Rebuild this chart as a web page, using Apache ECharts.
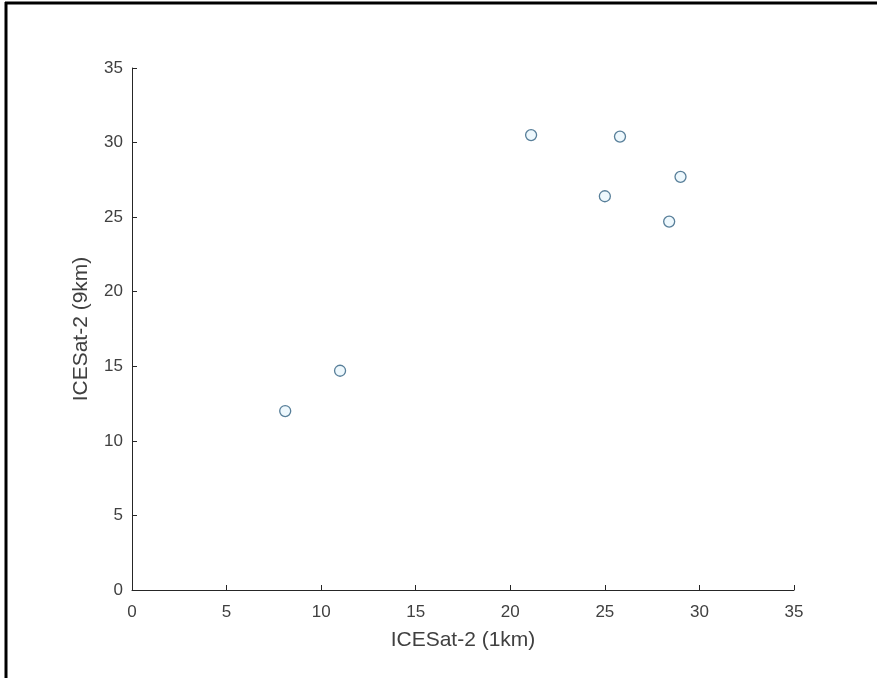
<!DOCTYPE html>
<html>
<head>
<meta charset="UTF-8" />
<title>ICESat-2 scatter</title>
<script src="https://cdn.jsdelivr.net/npm/echarts@6/dist/echarts.min.js"></script>
<style>
  html, body { margin: 0; padding: 0; background: #fff; }
  #container { width: 877px; height: 678px; }
</style>
</head>
<body>
<div id="container"></div>
<script type="text/javascript">
    // 1km vs 9km values
    var xVals = [8.1, 11.0, 21.1, 25.8, 25.0, 29.0, 28.4];
    var yVals = [12.0, 14.7, 30.5, 30.4, 26.4, 27.7, 24.7];
    var xName = 'ICESat-2 (1km)';
    var yName = 'ICESat-2 (9km)';

    var points = [];
    for (var i = 0; i < xVals.length; i++) {
        points.push([xVals[i], yVals[i]]);
    }

    var myChart = echarts.init(document.getElementById('container'));
    var axisColor = '#262626';
    var textColor = '#404040';

    var option = {
        backgroundColor: '#fff',
        animation: false,
        grid: { left: 132, right: 83, top: 68, bottom: 88 },
        graphic: [
            { type: 'line', shape: { x1: 5, y1: 3, x2: 877, y2: 3 }, style: { stroke: '#000', lineWidth: 3 } },
            { type: 'line', shape: { x1: 6, y1: 2, x2: 6, y2: 678 }, style: { stroke: '#000', lineWidth: 3 } }
        ],
        xAxis: {
            type: 'value', min: 0, max: 35, interval: 5,
            name: xName, nameLocation: 'middle', nameGap: 40,
            nameTextStyle: { color: textColor, fontSize: 21, fontFamily: 'Liberation Sans' },
            axisLine: { show: true, lineStyle: { color: axisColor, width: 1 } },
            axisTick: { show: true, inside: true, length: 5, lineStyle: { color: axisColor } },
            axisLabel: { color: textColor, fontSize: 17, margin: 14, fontFamily: 'Liberation Sans' },
            splitLine: { show: false }
        },
        yAxis: {
            type: 'value', min: 0, max: 35, interval: 5,
            name: yName, nameLocation: 'middle', nameGap: 40,
            nameTextStyle: { color: textColor, fontSize: 21, fontFamily: 'Liberation Sans' },
            axisLine: { show: true, lineStyle: { color: axisColor, width: 1 } },
            axisTick: { show: true, inside: true, length: 5, lineStyle: { color: axisColor } },
            axisLabel: { color: textColor, fontSize: 17, margin: 9, fontFamily: 'Liberation Sans' },
            splitLine: { show: false }
        },
        series: [
            {
                type: 'scatter',
                data: points,
                symbol: 'circle',
                symbolSize: 11,
                itemStyle: { color: '#eaf6fc', borderColor: '#2f5f80', borderWidth: 1.3 }
            }
        ]
    };

    myChart.setOption(option, true);
</script>
</body>
</html>
